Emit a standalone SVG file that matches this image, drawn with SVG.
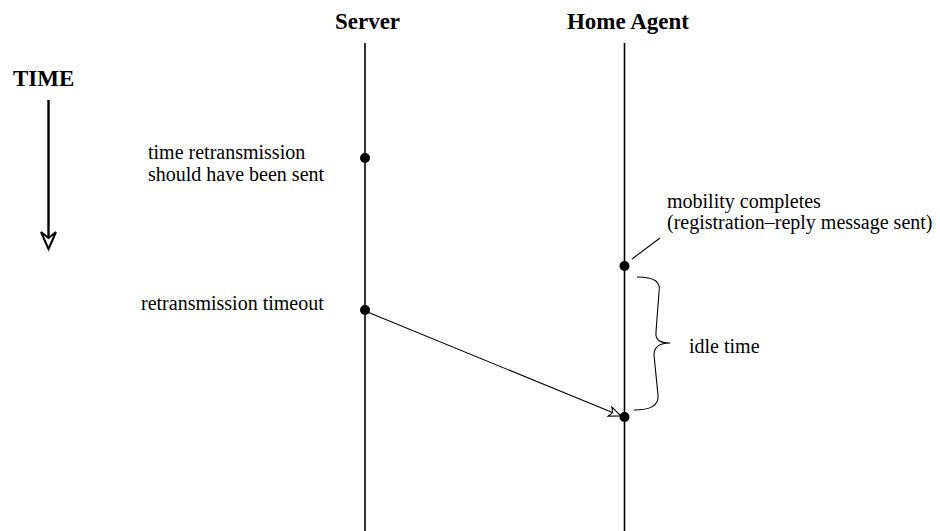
<svg xmlns="http://www.w3.org/2000/svg" width="940" height="531" viewBox="0 0 940 531">
  <style>
    .lbl { font-family: "Liberation Serif", "Times New Roman", serif; font-size: 20px; fill: #000; }
    .hdr { font-family: "Liberation Serif", "Times New Roman", serif; font-size: 23px; font-weight: bold; fill: #000; }
    .life { stroke: #000; stroke-width: 1.6; fill: none; }
    .thin { stroke: #000; stroke-width: 1.1; fill: none; }
    .dot { fill: #000; }
  </style>
  <defs>
    <marker id="openHead" viewBox="0 0 14 12" refX="13" refY="6" markerWidth="14" markerHeight="12" markerUnits="userSpaceOnUse" orient="auto">
      <path d="M1,1 L13,6 L1,11 L4,6 Z" fill="#fff" stroke="#000" stroke-width="1.1"/>
    </marker>
  </defs>
  <rect width="940" height="531" fill="#fff"/>

  <!-- time axis -->
  <g id="time-axis">
    <text class="hdr" x="13" y="86">TIME</text>
    <line x1="48.5" y1="100" x2="48.5" y2="240" stroke="#000" stroke-width="2.4"/>
    <path d="M41,232 L48.5,249 L56,232 L48.5,238 Z" fill="#fff" stroke="#000" stroke-width="2" stroke-linejoin="miter"/>
  </g>

  <!-- Server lifeline -->
  <g id="server">
    <text class="hdr" x="367.5" y="29" text-anchor="middle">Server</text>
    <line class="life" x1="365" y1="43" x2="365" y2="531"/>
    <circle class="dot" cx="365" cy="158" r="5"/>
    <circle class="dot" cx="365" cy="310" r="5"/>
    <text class="lbl" x="148" y="159">time retransmission</text>
    <text class="lbl" x="148" y="181">should have been sent</text>
    <text class="lbl" x="141" y="310">retransmission timeout</text>
  </g>

  <!-- Home Agent lifeline -->
  <g id="home-agent">
    <text class="hdr" x="628" y="29" text-anchor="middle">Home Agent</text>
    <line class="life" x1="624.5" y1="43" x2="624.5" y2="531"/>
    <circle class="dot" cx="624.5" cy="266" r="5"/>
    <circle class="dot" cx="624.5" cy="417" r="5"/>
    <text class="lbl" x="667" y="208">mobility completes</text>
    <text class="lbl" x="667" y="229">(registration–reply message sent)</text>
    <line class="thin" x1="632" y1="259" x2="660" y2="238"/>
  </g>

  <!-- idle time brace -->
  <g id="idle-time">
    <path class="thin" d="M637,277 C655,277 661,282 659,292 L656,332 C655,340 660,343 670,343 C660,343 654,346 654,355 L658,395 C659,406 650,410 634,410"/>
    <text class="lbl" x="689" y="353">idle time</text>
  </g>

  <!-- messages -->
  <g id="connectors">
    <line class="thin" x1="365" y1="311" x2="621" y2="416" marker-end="url(#openHead)"/>
  </g>
</svg>
